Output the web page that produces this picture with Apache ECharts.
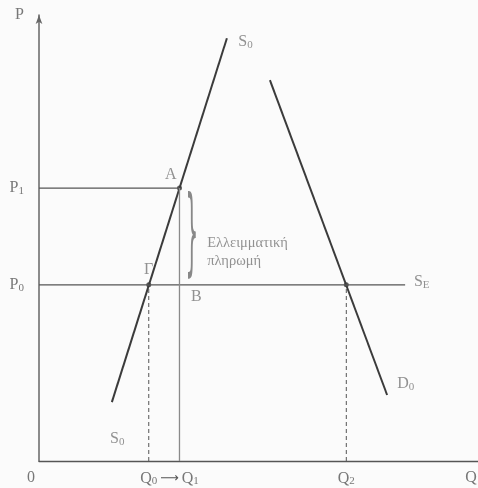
<!DOCTYPE html>
<html>
<head>
<meta charset="utf-8">
<script src="https://cdn.jsdelivr.net/npm/echarts@6/dist/echarts.min.js"></script>
<style>
html, body { margin: 0; padding: 0; background: #fbfbfb; }
#echart { width: 478px; height: 488px; }
</style>
</head>
<body>
<div id="echart"></div>
<script>
// τιμές του διαγράμματος
var P0 = 39.5, P1 = 61.2;
var Q0 = 25.0, Q1 = 32.0, Q2 = 70.0;
var supplyQ = [16.6, 42.8], supplyP = [13.2, 94.8];
var demandQ = [52.6, 79.3], demandP = [85.4, 14.8];
var worldEndQ = 83.4;
var xTicks = [0, Q0, Q1, Q2, 100];
var xTickNames = ['0', 'Q0', 'Q1', 'Q2', 'Q'];
var yTicks = [P0, P1, 100];
var yTickNames = ['P0', 'P1', 'P'];

// σημειώσεις (θέση στο διάγραμμα)
var notes = [
    { at: [28.7, 64.1], text: '{b|A}' },
    { at: [23.9, 42.8], text: '{b|Γ}' },
    { at: [34.6, 36.8], text: '{b|B}' },
    { at: [45.4, 93.9], text: '{b|S}{s|0}' },
    { at: [16.2, 4.9], text: '{b|S}{s|0}' },
    { at: [81.6, 17.2], text: '{b|D}{s|0}' },
    { at: [85.4, 40.1], text: '{b|S}{s|E}' },
    { at: [38.3, 48.8], text: '{t|Ελλειμματική}' },
    { at: [38.3, 44.8], text: '{t|πληρωμή}' }
];

var txt = '#777';
var rich = {
    b: { fontFamily: 'Liberation Serif', fontSize: 16, color: txt },
    s: { fontFamily: 'Liberation Serif', fontSize: 11, color: txt, verticalAlign: 'bottom', padding: [6, 0, 0, 0] },
    t: { fontFamily: 'Liberation Serif', fontSize: 14.5, color: txt },
    a: { fontFamily: 'DejaVu Sans', fontSize: 13, color: '#555', padding: [0, 3, 0, 0] },
    z: { fontFamily: 'Liberation Serif', fontSize: 16, color: txt, padding: [0, 16, 0, 0] },
    e: { fontFamily: 'Liberation Serif', fontSize: 16, color: txt, padding: [0, 14, 0, 0] }
};

function tickName(names, ticks, v) {
    var i = ticks.indexOf(v);
    if (i < 0) return '';
    var n = names[i];
    if (n === '0') return '{z|0}';
    if (n === 'Q') return '{e|Q}';
    var lab = n.length > 1 ? '{b|' + n[0] + '}{s|' + n.slice(1) + '}' : '{b|' + n + '}';
    if (n === 'Q1') lab = '{a|⟶}' + lab;
    return lab;
}

function seg(a, b) { return [a, b]; }

var myChart = echarts.init(document.getElementById('echart'));
var option = {
    backgroundColor: '#fbfbfb',
    animation: false,
    grid: { left: 39, right: 0, top: 15, bottom: 27, outerBoundsMode: 'none' },
    xAxis: {
        type: 'value', min: 0, max: 100,
        splitLine: { show: false },
        axisTick: { show: false },
        axisLine: { lineStyle: { color: '#555', width: 1.3 } },
        axisLabel: {
            customValues: xTicks,
            margin: 9,
            hideOverlap: false,
            formatter: function (v) { return tickName(xTickNames, xTicks, v); },
            rich: rich
        }
    },
    yAxis: {
        type: 'value', min: 0, max: 100,
        splitLine: { show: false },
        axisTick: { show: false },
        axisLine: { lineStyle: { color: '#666', width: 1.5 }, symbol: ['none', 'arrow'], symbolSize: [5, 9] },
        axisLabel: {
            customValues: yTicks,
            margin: 15,
            formatter: function (v) { return tickName(yTickNames, yTicks, v); },
            rich: rich
        }
    },
    series: [
        {
            name: 'S0', type: 'line', symbol: 'none',
            lineStyle: { color: '#3b3b3b', width: 2 },
            data: seg([supplyQ[0], supplyP[0]], [supplyQ[1], supplyP[1]])
        },
        {
            name: 'D0', type: 'line', symbol: 'none',
            lineStyle: { color: '#3b3b3b', width: 2 },
            data: seg([demandQ[0], demandP[0]], [demandQ[1], demandP[1]])
        },
        {
            name: 'SE', type: 'line', symbol: 'none',
            lineStyle: { color: '#555', width: 1.3 },
            data: seg([0, P0], [worldEndQ, P0])
        },
        {
            name: 'P1', type: 'line', symbol: 'none',
            lineStyle: { color: '#555', width: 1.3 },
            data: seg([0, P1], [Q1, P1])
        },
        {
            name: 'Q1', type: 'line', symbol: 'none',
            lineStyle: { color: '#8a8a8a', width: 1.3 },
            data: seg([Q1, 0], [Q1, P1])
        },
        {
            name: 'Q0', type: 'line', symbol: 'none',
            lineStyle: { color: '#555', width: 1, type: [4, 3] },
            data: seg([Q0, 0], [Q0, P0])
        },
        {
            name: 'Q2', type: 'line', symbol: 'none',
            lineStyle: { color: '#555', width: 1, type: [4, 3] },
            data: seg([Q2, 0], [Q2, P0])
        },
        {
            name: 'dots', type: 'scatter', symbolSize: 5,
            itemStyle: { color: '#333' },
            data: [[Q0, P0], [Q2, P0], [Q1, P1]]
        },
        {
            name: 'notes', type: 'scatter', symbolSize: 0, clip: false,
            data: notes.map(function (n) { return { value: n.at, text: n.text }; }),
            label: {
                show: true, position: 'inside', align: 'left',
                formatter: function (p) { return p.data.text; },
                rich: rich
            }
        }
    ]
};
myChart.setOption(option);

// άγκιστρο δίπλα στο AB
var braceTop = myChart.convertToPixel({ gridIndex: 0 }, [Q1, P1]);
var braceBot = myChart.convertToPixel({ gridIndex: 0 }, [Q1, P0]);
var braceH = braceBot[1] - braceTop[1] - 10;
myChart.setOption({
    graphic: [{
        type: 'text',
        x: braceTop[0] + 6, y: braceTop[1] + 3,
        scaleY: braceH / 18.4,
        style: { text: '}', font: '20px DejaVu Sans', fill: '#888' }
    }]
});
</script>
</body>
</html>
